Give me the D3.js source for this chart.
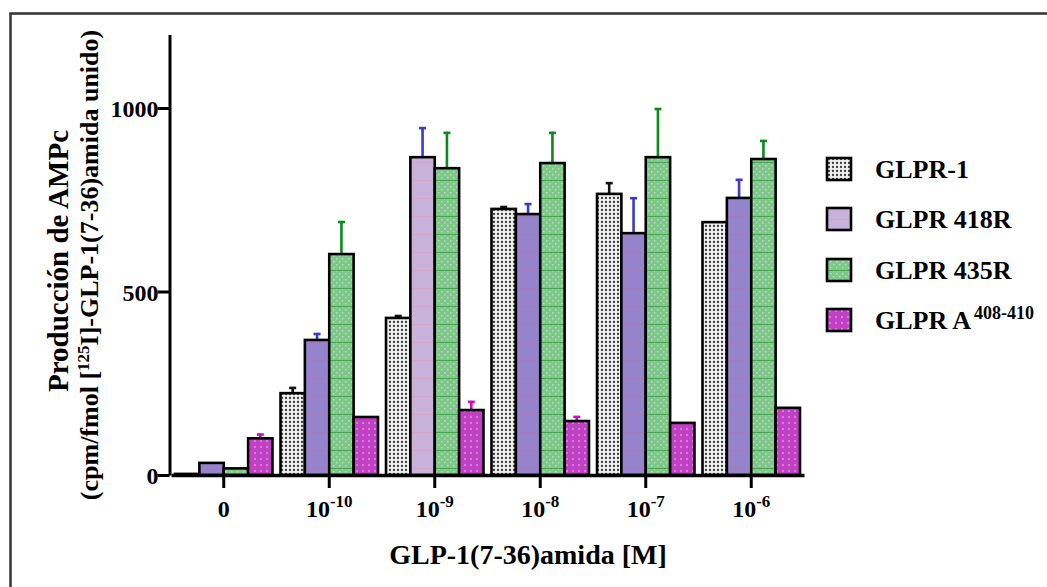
<!DOCTYPE html>
<html><head><meta charset="utf-8">
<script src="https://cdn.jsdelivr.net/npm/d3@7"></script>
<style>
html,body{margin:0;padding:0;background:#fff;}
text{font-family:"Liberation Serif","Times New Roman",serif;font-weight:bold;fill:#000;}
</style></head>
<body>
<svg id="chart" width="1047" height="587"></svg>
<script>
// ---- data ----
const categories = ["0", "1e-10", "1e-9", "1e-8", "1e-7", "1e-6"];
const tickBase = ["0", "10", "10", "10", "10", "10"];
const tickExp = ["", "-10", "-9", "-8", "-7", "-6"];
const seriesNames = ["GLPR-1", "GLPR 418R", "GLPR 435R", "GLPR A"];
const seriesSup = ["", "", "", "408-410"];
const glpr1 = [3, 223, 428, 725, 766, 689];
const glpr1Err = [0, 17, 8, 8, 32, 0];
const glpr418R = [33, 368, 866, 711, 659, 755];
const glpr418RErr = [0, 19, 82, 30, 98, 52];
const glpr435R = [18, 602, 836, 850, 866, 861];
const glpr435RErr = [0, 90, 99, 85, 134, 52];
const glprA = [100, 158, 177, 147, 142, 183];
const glprAErr = [13, 0, 25, 14, 0, 0];
const yTicks = [0, 500, 1000];

const values = [glpr1, glpr418R, glpr435R, glprA];
const errors = [glpr1Err, glpr418RErr, glpr435RErr, glprAErr];

// ---- styling ----
const errColors = ["#111", "#3a3acc", "#0a8a1a", "#cc10b8"];
const fills = ["url(#p1)", "url(#p2)", "url(#p3)", "url(#p4)"];

const svg = d3.select("#chart");
const defs = svg.append("defs");

// pattern GLPR-1: light stipple
const p1 = defs.append("pattern").attr("id","p1").attr("width",4).attr("height",4).attr("patternUnits","userSpaceOnUse");
p1.append("rect").attr("width",4).attr("height",4).attr("fill","#f0f0f0");
p1.append("circle").attr("cx",2).attr("cy",2).attr("r",1.15).attr("fill","#3a3a3a");
// pattern 418R: purple with faint grid
const p2 = defs.append("pattern").attr("id","p2").attr("width",24).attr("height",18).attr("patternUnits","userSpaceOnUse");
p2.append("rect").attr("width",24).attr("height",18).attr("fill","#9584cc");
p2.append("line").attr("x1",0).attr("x2",24).attr("y1",0.5).attr("y2",0.5).attr("stroke","#a27cc2").attr("stroke-width",1);
const p2b = defs.append("pattern").attr("id","p2b").attr("width",24).attr("height",18).attr("patternUnits","userSpaceOnUse");
p2b.append("rect").attr("width",24).attr("height",18).attr("fill","#c8b2dc");
p2b.append("line").attr("x1",0).attr("x2",24).attr("y1",0.5).attr("y2",0.5).attr("stroke","#d6a6c8").attr("stroke-width",1);
// pattern 435R: green checker with dark green lines
const p3 = defs.append("pattern").attr("id","p3").attr("width",18).attr("height",18).attr("patternUnits","userSpaceOnUse");
p3.append("rect").attr("width",18).attr("height",18).attr("fill","#80c78c");
for (let i = 0; i < 6; i++) for (let j = 0; j < 6; j++) if ((i + j) % 2 === 0)
  p3.append("rect").attr("x",i*3).attr("y",j*3).attr("width",1.5).attr("height",1.5).attr("fill","#b0dfb6");
p3.append("line").attr("x1",0).attr("x2",18).attr("y1",0.5).attr("y2",0.5).attr("stroke","#3a9a40").attr("stroke-width",1).attr("stroke-opacity",0.8);
// pattern A408-410: magenta with light dots
const p4 = defs.append("pattern").attr("id","p4").attr("width",6).attr("height",6).attr("patternUnits","userSpaceOnUse");
p4.append("rect").attr("width",6).attr("height",6).attr("fill","#c040c4");
p4.append("circle").attr("cx",3).attr("cy",3).attr("r",1.2).attr("fill","#d77ad8");

// frame
svg.append("rect").attr("x",10.5).attr("y",13.5).attr("width",1200).attr("height",800)
  .attr("fill","none").attr("stroke","#333").attr("stroke-width",2.5);

// scales
const y = d3.scaleLinear().domain([0, 1200]).range([475, 34.6]);
const x0 = d3.scaleBand().domain(categories).range([171, 804]).paddingInner(0.076).paddingOuter(0.038);
const x1 = d3.scaleBand().domain(d3.range(4)).range([0, x0.bandwidth()]);

// bars
const g = svg.append("g");
categories.forEach((c, ci) => {
  values.forEach((vals, si) => {
    const bx = x0(c) + x1(si);
    const bw = x1.bandwidth();
    let f = fills[si];
    if (si === 1 && ci === 2) f = "url(#p2b)";
    if (errors[si][ci] > 0) {
      const top = y(vals[ci] + errors[si][ci]);
      const cx = bx + bw / 2;
      g.append("line").attr("x1",cx).attr("x2",cx).attr("y1",y(vals[ci])).attr("y2",top)
        .attr("stroke",errColors[si]).attr("stroke-width",2.6);
      g.append("line").attr("x1",cx-3.5).attr("x2",cx+3.5).attr("y1",top+1).attr("y2",top+1)
        .attr("stroke",errColors[si]).attr("stroke-width",2.6);
    }
    g.append("rect").attr("x",bx).attr("y",y(vals[ci])).attr("width",bw)
      .attr("height",y(0) - y(vals[ci]))
      .attr("fill",f).attr("stroke","#000").attr("stroke-width",2.6);
  });
});

// y axis
const yAxis = svg.append("g").attr("transform","translate(169.5,0)")
  .call(d3.axisLeft(y).tickValues(yTicks).tickFormat(d3.format("d")).tickSize(12).tickSizeOuter(0));
yAxis.select(".domain").attr("stroke","#000").attr("stroke-width",3);
yAxis.selectAll(".tick line").attr("stroke","#000").attr("stroke-width",3);
yAxis.selectAll(".tick text").attr("x",-11).attr("dy","0.36em")
  .style("font-size","24px");

// x axis
const xAxis = svg.append("g").attr("transform",`translate(0,${y(0)})`)
  .call(d3.axisBottom(x0).tickSize(13).tickSizeOuter(0).tickFormat(""));
xAxis.select(".domain").attr("stroke","#000").attr("stroke-width",3.5);
xAxis.selectAll(".tick line").attr("stroke","#000").attr("stroke-width",3);
xAxis.selectAll(".tick").each(function(d, i) {
  const t = d3.select(this).append("text").attr("y",42).attr("text-anchor","middle")
    .style("font-size","24px").attr("fill","#000");
  t.append("tspan").text(tickBase[i]);
  if (tickExp[i]) t.append("tspan").attr("dy",-10).style("font-size","17px").text(tickExp[i]);
});

// axis titles
svg.append("text").attr("x",528).attr("y",564).attr("text-anchor","middle")
  .style("font-size","28px").text("GLP-1(7-36)amida [M]");
svg.append("text").attr("transform","translate(68,261) rotate(-90)").attr("text-anchor","middle")
  .style("font-size","29px").text("Producción de AMPc");
const yt2 = svg.append("text").attr("transform","translate(98,265) rotate(-90)").attr("text-anchor","middle")
  .style("font-size","26px");
yt2.append("tspan").text("(cpm/fmol [");
yt2.append("tspan").attr("dy",-9).style("font-size","17px").text("125");
yt2.append("tspan").attr("dy",9).text("I]-GLP-1(7-36)amida unido)");

// legend
const legY = [169, 219, 270, 320];
seriesNames.forEach((n, i) => {
  const lg = svg.append("g").attr("transform",`translate(827,${legY[i]})`);
  lg.append("rect").attr("x",0).attr("y",-11).attr("width",24).attr("height",22)
    .attr("fill", i === 1 ? "url(#p2b)" : fills[i]).attr("stroke","#000").attr("stroke-width",2.6);
  const t = lg.append("text").attr("x",48).attr("y",9).style("font-size","26px");
  t.append("tspan").text(n);
  if (seriesSup[i]) t.append("tspan").attr("dx",3).attr("dy",-10).style("font-size","18px").text(seriesSup[i]);
});
</script>
</body></html>
